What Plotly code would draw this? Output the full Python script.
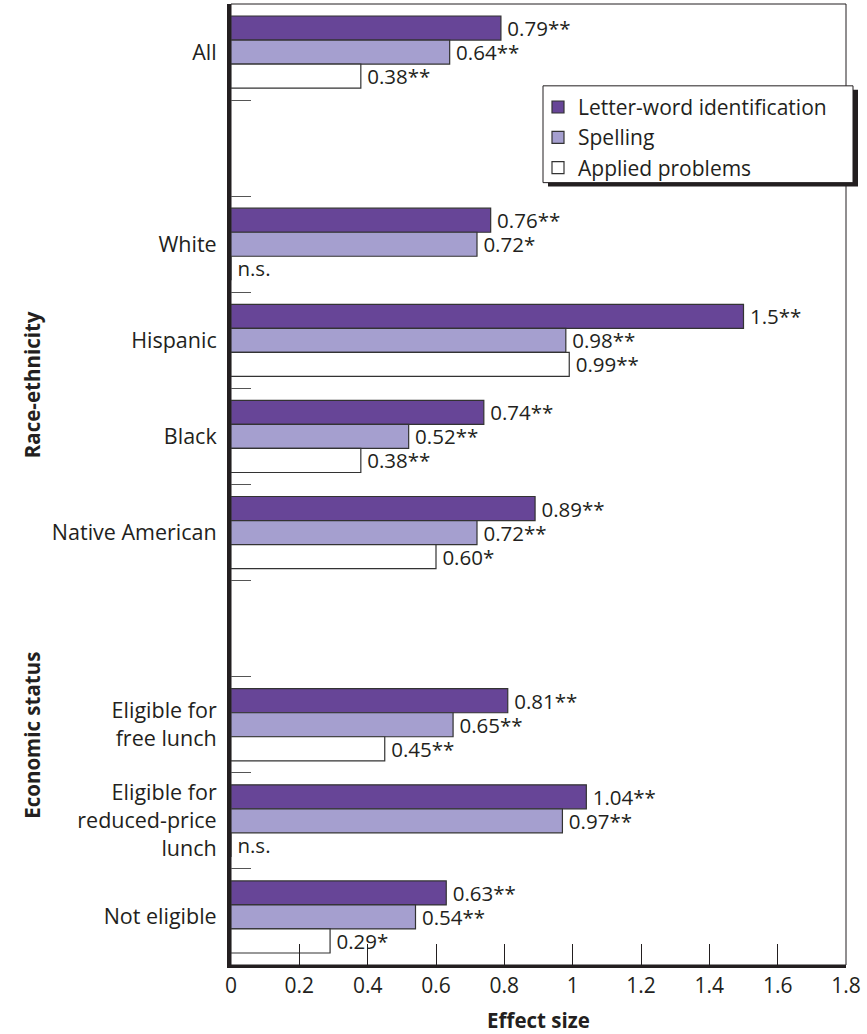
import plotly.graph_objects as go

# ---- data ----
categories = ["All", "\u2002", "White", "Hispanic", "Black", "Native American", "\u2003",
              "Eligible for<br>free lunch", "Eligible for<br>reduced-price<br>lunch", "Not eligible"]
series_names = ["Letter-word identification", "Spelling", "Applied problems"]
letter_word = [0.79, None, 0.76, 1.50, 0.74, 0.89, None, 0.81, 1.04, 0.63]
spelling = [0.64, None, 0.72, 0.98, 0.52, 0.72, None, 0.65, 0.97, 0.54]
applied = [0.38, None, 0, 0.99, 0.38, 0.60, None, 0.45, 0, 0.29]
letter_word_lbl = ["0.79**", "", "0.76**", "1.5**", "0.74**", "0.89**", "", "0.81**", "1.04**", "0.63**"]
spelling_lbl = ["0.64**", "", "0.72*", "0.98**", "0.52**", "0.72**", "", "0.65**", "0.97**", "0.54**"]
applied_lbl = ["0.38**", "", "n.s.", "0.99**", "0.38**", "0.60*", "", "0.45**", "n.s.", "0.29*"]
x_ticks = [0, 0.2, 0.4, 0.6, 0.8, 1, 1.2, 1.4, 1.6, 1.8]
x_tick_text = ["0", "0.2", "0.4", "0.6", "0.8", "1", "1.2", "1.4", "1.6", "1.8"]

colors = ["#674597", "#a59fcf", "#ffffff"]
INK = "#231f20"
FONT = "Open Sans"

fig = go.Figure()
for name, vals, lbls, col in zip(series_names,
                                 [letter_word, spelling, applied],
                                 [letter_word_lbl, spelling_lbl, applied_lbl],
                                 colors):
    fig.add_trace(go.Bar(
        y=categories, x=vals, name=name, orientation="h",
        marker=dict(color=col, line=dict(color="#333333", width=1.2)),
        text=[("\u2009" + t) if t else "" for t in lbls],
        textposition="outside", cliponaxis=False,
        constraintext="none",
        textfont=dict(size=20.5, color=INK, family=FONT),
        hoverinfo="skip",
    ))

W, H = 867, 1034
L, R, T, B = 231, 21, 4, 67
pw, ph = W - L - R, H - T - B


def px(xp):
    return (xp - L) / pw


def py(yp):
    return (H - B - yp) / ph


shapes = [
    # plot frame (thin top/right)
    dict(type="rect", xref="paper", yref="paper", x0=0, x1=1, y0=0, y1=1,
         line=dict(color=INK, width=1), layer="below"),
    # legend shadow
    dict(type="rect", xref="paper", yref="paper", x0=px(548), x1=px(858), y0=py(187), y1=py(90),
         fillcolor=INK, line=dict(width=0), layer="above"),
    # legend box
    dict(type="rect", xref="paper", yref="paper", x0=px(543), x1=px(853), y0=py(183), y1=py(86),
         fillcolor="white", line=dict(color=INK, width=1), layer="above"),
]

annotations = [
    dict(text="<b>Race-ethnicity</b>", xref="paper", yref="paper", x=px(16), y=py(386),
         textangle=-90, showarrow=False, font=dict(size=20.5, color=INK, family=FONT)),
    dict(text="<b>Economic status</b>", xref="paper", yref="paper", x=px(16), y=py(823),
         textangle=-90, showarrow=False, font=dict(size=20.5, color=INK, family=FONT)),
]

fig.update_layout(
    width=W, height=H,
    margin=dict(l=L, r=R, t=T, b=B),
    paper_bgcolor="white", plot_bgcolor="white",
    barmode="group", bargap=0.25, bargroupgap=0,
    font=dict(family=FONT, size=21, color=INK),
    showlegend=True,
    legend=dict(x=px(538), y=py(87), xanchor="left", yanchor="top",
                bgcolor="rgba(0,0,0,0)", borderwidth=0,
                font=dict(size=21, color=INK, family=FONT), traceorder="normal"),
    shapes=shapes, annotations=annotations,
    xaxis=dict(range=[0, 1.8], tickvals=x_ticks, ticktext=x_tick_text,
               ticks="inside", ticklen=21, tickwidth=1, tickcolor=INK,
               showgrid=False, zeroline=False,
               showline=True, linewidth=3, linecolor=INK,
               tickfont=dict(size=21, color=INK, family=FONT),
               title=dict(text="<b>Effect size</b>", font=dict(size=20.5, color=INK, family=FONT),
                          standoff=16)),
    yaxis=dict(type="category", categoryorder="array", categoryarray=categories,
               autorange="reversed", tickson="boundaries",
               ticks="inside", ticklen=20, tickwidth=1, tickcolor="#555555",
               showgrid=False, zeroline=False,
               showline=True, linewidth=4, linecolor=INK,
               ticklabelstandoff=6,
               tickfont=dict(size=21.5, color=INK, family=FONT)),
)

fig.write_html("out.html")
